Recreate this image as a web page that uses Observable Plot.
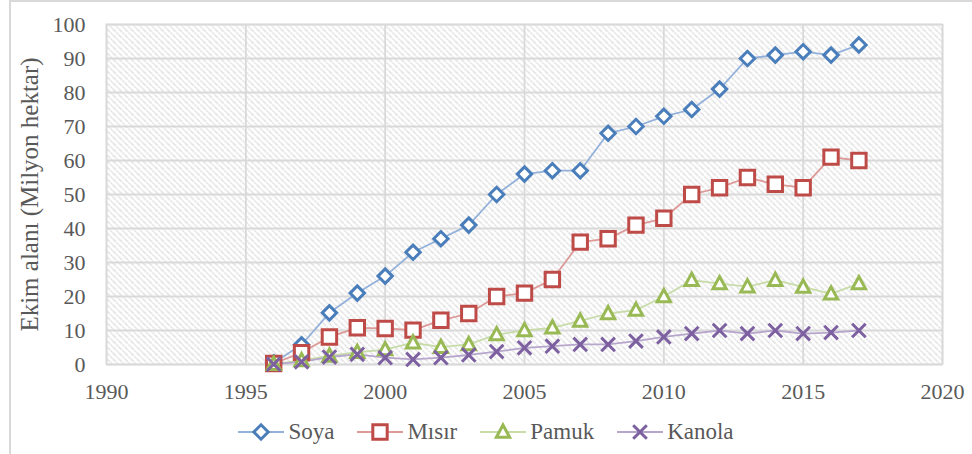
<!DOCTYPE html>
<html>
<head>
<meta charset="utf-8">
<script src="https://cdn.jsdelivr.net/npm/d3@7"></script>
<script src="https://cdn.jsdelivr.net/npm/@observablehq/plot@0.6"></script>
<style>
  html, body { margin: 0; padding: 0; background: #fff; }
  #wrap { position: relative; width: 972px; height: 454px; overflow: hidden; }
  #border { position: absolute; left: 9px; top: 0px; width: 980px; height: 470px;
            border-left: 2px solid #d9d9d9; border-top: 2px solid #d9d9d9; pointer-events: none; }
  #legend { display: flex; justify-content: center; align-items: center; gap: 23px; height: 44px;
            font-family: "Liberation Serif", "Times New Roman", serif; font-size: 23px; color: #595959; }
  .item { display: flex; align-items: center; gap: 4px; }
  svg { display: block; }
</style>
</head>
<body>
<div id="wrap"><div id="chart"></div><div id="legend"></div><div id="border"></div></div>
<script>
// ---- data ----
const years  = [1996,1997,1998,1999,2000,2001,2002,2003,2004,2005,2006,2007,2008,2009,2010,2011,2012,2013,2014,2015,2016,2017];
const soya   = [0.5, 5.8, 15.2, 21, 26, 33, 37, 41, 50, 56, 57, 57, 68, 70, 73, 75, 81, 90, 91, 92, 91, 94];
const misir  = [0.3, 3.5, 8.1, 10.8, 10.6, 10.1, 13, 15, 20, 21, 25, 36, 37, 41, 43, 50, 52, 55, 53, 52, 61, 60];
const pamuk  = [0.1, 1.2, 2.5, 3.6, 4.4, 6.4, 5.1, 5.9, 8.8, 10, 10.8, 12.8, 15, 16, 20, 24.8, 23.8, 22.9, 24.8, 22.8, 20.8, 23.8];
const kanola = [0.1, 0.8, 2.2, 3, 2, 1.5, 2, 2.8, 3.8, 4.9, 5.4, 5.9, 5.9, 6.9, 8.1, 9.1, 10, 9.1, 10, 9.1, 9.4, 10];
const seriesNames = ["Soya", "Mısır", "Pamuk", "Kanola"];
const xTicks = [1990, 1995, 2000, 2005, 2010, 2015, 2020];
const yTicks = [0, 10, 20, 30, 40, 50, 60, 70, 80, 90, 100];
const yLabel = "Ekim alanı (Milyon hektar)";

// ---- styling ----
const markerColors = ["#4A7EBB", "#BE4B48", "#98B954", "#7D60A0"];
const lineColors   = ["#93B1DA", "#DC9A98", "#C8DCAA", "#B7A6CC"];

const sym = {
  diamond: { draw(c, s) { const r = Math.sqrt(s / Math.PI); c.moveTo(0, -r); c.lineTo(r, 0); c.lineTo(0, r); c.lineTo(-r, 0); c.closePath(); } },
  square:  { draw(c, s) { const r = Math.sqrt(s / Math.PI); c.moveTo(-r, -r); c.lineTo(r, -r); c.lineTo(r, r); c.lineTo(-r, r); c.closePath(); } },
  triangle:{ draw(c, s) { const r = Math.sqrt(s / Math.PI); c.moveTo(0, -r); c.lineTo(r * 0.95, r * 0.75); c.lineTo(-r * 0.95, r * 0.75); c.closePath(); } },
  times:   { draw(c, s) { const r = Math.sqrt(s / Math.PI); c.moveTo(-r, -r); c.lineTo(r, r); c.moveTo(-r, r); c.lineTo(r, -r); } }
};
const symbols = [sym.diamond, sym.square, sym.triangle, sym.times];
const radii = [7.2, 7.2, 7, 6.8];
const strokeWidths = [3, 3, 3, 3];

const table = [];
[soya, misir, pamuk, kanola].forEach((vals, i) => {
  vals.forEach((v, j) => table.push({ series: seriesNames[i], year: years[j], value: v }));
});
const bySeries = s => table.filter(d => d.series === s);

const marks = [
  Plot.frame({ fill: "#fff", stroke: "#d9d9d9", strokeWidth: 1.5 }),
  Plot.gridX(xTicks, { stroke: "#d9d9d9", strokeOpacity: 1, strokeWidth: 1.8 }),
  Plot.gridY(yTicks, { stroke: "#d9d9d9", strokeOpacity: 1, strokeWidth: 1.8 }),
  Plot.axisX(xTicks, { tickSize: 0, tickPadding: 19, tickFormat: d => String(d), label: null, fontSize: 22 }),
  Plot.axisY(yTicks, { tickSize: 0, tickPadding: 21, tickFormat: d => String(d), label: null, fontSize: 22 }),
];
seriesNames.forEach((s, i) => {
  marks.push(Plot.line(bySeries(s), { x: "year", y: "value", stroke: lineColors[i], strokeWidth: 1.8 }));
});
seriesNames.forEach((s, i) => {
  marks.push(Plot.dot(bySeries(s), { x: "year", y: "value", symbol: symbols[i], r: radii[i],
    fill: i === 3 ? "none" : "#fff", stroke: markerColors[i], strokeWidth: strokeWidths[i] }));
});
marks.push(Plot.text([yLabel], { frameAnchor: "left", dx: -77, rotate: -90, fontSize: 25, fill: "#595959",
  textAnchor: "middle", lineAnchor: "middle" }));

const chart = Plot.plot({
  width: 972, height: 410,
  marginLeft: 106, marginRight: 30, marginTop: 24, marginBottom: 46,
  x: { domain: [1990, 2020], label: null },
  y: { domain: [0, 100], label: null },
  style: { fontFamily: "'Liberation Serif', 'Times New Roman', serif", fontSize: "22px", color: "#595959", background: "transparent", overflow: "visible" },
  marks
});

// hatch pattern for the plotting area
const svg = d3.select(chart.tagName.toLowerCase() === "svg" ? chart : chart.querySelector("svg"));
const defs = svg.insert("defs", ":first-child");
const P = 6;
const pat = defs.append("pattern").attr("id", "hatch").attr("patternUnits", "userSpaceOnUse")
  .attr("width", P).attr("height", P);
pat.append("rect").attr("width", P).attr("height", P).attr("fill", "#fff");
pat.append("path").attr("d", `M0,0L${P},${P}M-1,${P-1}L1,${P+1}M${P-1},-1L${P+1},1`)
  .attr("stroke", "#cfcfcf").attr("stroke-width", 1.1).attr("stroke-dasharray", "2 1");
const frameEl = svg.node().querySelector('[aria-label="frame"]');
if (frameEl) {
  if (frameEl.tagName.toLowerCase() === "rect") frameEl.setAttribute("fill", "url(#hatch)");
  else frameEl.querySelectorAll("rect").forEach(r => r.setAttribute("fill", "url(#hatch)"));
}
document.getElementById("chart").appendChild(chart);

// legend
const legend = d3.select("#legend");
seriesNames.forEach((s, i) => {
  const item = legend.append("div").attr("class", "item");
  const ls = item.append("svg").attr("width", 46).attr("height", 22);
  ls.append("line").attr("x1", 0).attr("x2", 46).attr("y1", 11).attr("y2", 11)
    .attr("stroke", lineColors[i]).attr("stroke-width", 1.8);
  const p = d3.path();
  symbols[i].draw(p, Math.PI * radii[i] * radii[i]);
  ls.append("path").attr("d", p.toString()).attr("transform", "translate(23,11)")
    .attr("fill", i === 3 ? "none" : "#fff").attr("stroke", markerColors[i]).attr("stroke-width", strokeWidths[i]);
  item.append("span").text(s);
});
</script>
</body>
</html>
